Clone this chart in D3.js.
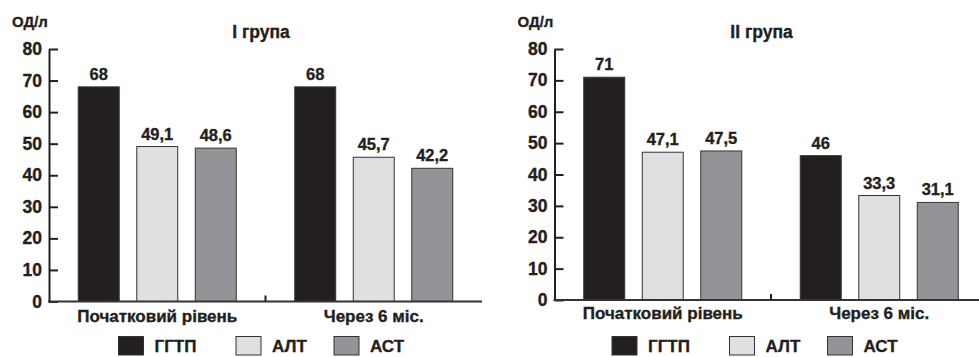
<!DOCTYPE html>
<html lang="uk">
<head>
<meta charset="utf-8">
<script src="https://cdn.jsdelivr.net/npm/d3@7"></script>
<style>
  html, body { margin: 0; padding: 0; background: #fff; }
  svg { display: block; }
  text { font-family: "Liberation Sans", Arial, Helvetica, sans-serif; font-weight: bold; fill: #231f20;
         stroke: #231f20; stroke-width: 0.35px; }
</style>
</head>
<body>
<svg id="chart" width="979" height="357"></svg>
<script>
// Categories, series and values
const categories = ["Початковий рівень", "Через 6 міс."];
const seriesNames = ["ГГТП", "АЛТ", "АСТ"];
const yTicks = [0, 10, 20, 30, 40, 50, 60, 70, 80];
const unitLabel = "ОД/л";

const groupITitle = "І група";
const groupI_GGTP = [68, 68];
const groupI_ALT  = [49.1, 45.7];
const groupI_AST  = [48.6, 42.2];

const groupIITitle = "ІІ група";
const groupII_GGTP = [71, 46];
const groupII_ALT  = [47.1, 33.3];
const groupII_AST  = [47.5, 31.1];

const colors = ["#231f20", "#dfe0e2", "#939497"];

const svg = d3.select("#chart");
const fmt = v => (Number.isInteger(v) ? String(v) : String(v).replace(".", ","));

function drawPanel(cfg) {
  const { title, values, ax, y0, yTop, titleX, catDy, legendX, legendY } = cfg;
  const g = svg.append("g").attr("transform", `translate(${ax},0)`);

  const y = d3.scaleLinear().domain([0, 80]).range([y0, yTop]);
  const x0 = d3.scaleBand().domain(categories).range([0, 433]);
  const x1 = d3.scaleBand().domain(seriesNames).range([0, x0.bandwidth()])
    .paddingInner(0.3).paddingOuter(0.5);

  // bars
  const rows = [];
  categories.forEach((c, ci) => {
    seriesNames.forEach((s, si) => rows.push({ c, s, si, v: values[si][ci] }));
  });
  g.selectAll("rect.bar").data(rows).enter().append("rect")
    .attr("class", "bar")
    .attr("x", d => x0(d.c) + x1(d.s))
    .attr("y", d => y(d.v))
    .attr("width", x1.bandwidth())
    .attr("height", d => y(0) - y(d.v))
    .attr("fill", d => colors[d.si])
    .attr("stroke", "#333")
    .attr("stroke-width", 1);

  // value labels
  g.selectAll("text.val").data(rows).enter().append("text")
    .attr("class", "val")
    .attr("x", d => x0(d.c) + x1(d.s) + x1.bandwidth() / 2)
    .attr("y", d => y(d.v) - 7)
    .attr("text-anchor", "middle")
    .attr("font-size", 16.5)
    .text(d => fmt(d.v));

  // y axis, ticks pointing inward
  const yAxis = d3.axisLeft(y).tickValues(yTicks).tickSizeInner(-9).tickSizeOuter(0).tickPadding(7);
  const ya = g.append("g").call(yAxis);
  ya.select(".domain").attr("stroke", "#231f20").attr("stroke-width", 2);
  ya.selectAll(".tick line").attr("stroke", "#231f20").attr("stroke-width", 2);
  ya.selectAll(".tick text").attr("font-size", 17.5).attr("font-weight", "bold")
    .attr("font-family", "'Liberation Sans', Arial, sans-serif").attr("fill", "#231f20")
    .attr("stroke", "#231f20").attr("stroke-width", 0.35);

  // x axis baseline with a divider tick between categories
  g.append("line").attr("x1", -1).attr("x2", 433).attr("y1", y(0)).attr("y2", y(0))
    .attr("stroke", "#333").attr("stroke-width", 2);
  g.append("line").attr("x1", x0(categories[1])).attr("x2", x0(categories[1]))
    .attr("y1", y(0)).attr("y2", y(0) - 6).attr("stroke", "#231f20").attr("stroke-width", 2);

  // category labels
  g.selectAll("text.cat").data(categories).enter().append("text")
    .attr("class", "cat")
    .attr("x", d => x0(d) + x0.bandwidth() / 2)
    .attr("y", y(0) + catDy)
    .attr("text-anchor", "middle")
    .attr("font-size", 17)
    .text(d => d);

  // unit label and title
  g.append("text").attr("x", -37).attr("y", 27).attr("font-size", 15).text(unitLabel);
  g.append("text").attr("x", titleX).attr("y", 38).attr("text-anchor", "middle")
    .attr("font-size", 17.5).text(title);

  // legend
  const legendOffsets = [0, 117.5, 215.5];
  const lg = g.selectAll("g.leg").data(seriesNames).enter().append("g")
    .attr("class", "leg")
    .attr("transform", (d, i) => `translate(${legendX + legendOffsets[i]},${legendY})`);
  lg.append("rect").attr("width", 25).attr("height", 18.5)
    .attr("fill", (d, i) => colors[i]).attr("stroke", "#333").attr("stroke-width", 1);
  lg.append("text").attr("x", 36).attr("y", 15.5).attr("font-size", 17).text(d => d);
}

drawPanel({
  title: groupITitle,
  values: [groupI_GGTP, groupI_ALT, groupI_AST],
  ax: 49, y0: 301.5, yTop: 49, titleX: 212, catDy: 20,
  legendX: 69.5, legendY: 336.5
});

drawPanel({
  title: groupIITitle,
  values: [groupII_GGTP, groupII_ALT, groupII_AST],
  ax: 554.5, y0: 300, yTop: 49, titleX: 207, catDy: 18.5,
  legendX: 57.5, legendY: 336.5
});
</script>
</body>
</html>
